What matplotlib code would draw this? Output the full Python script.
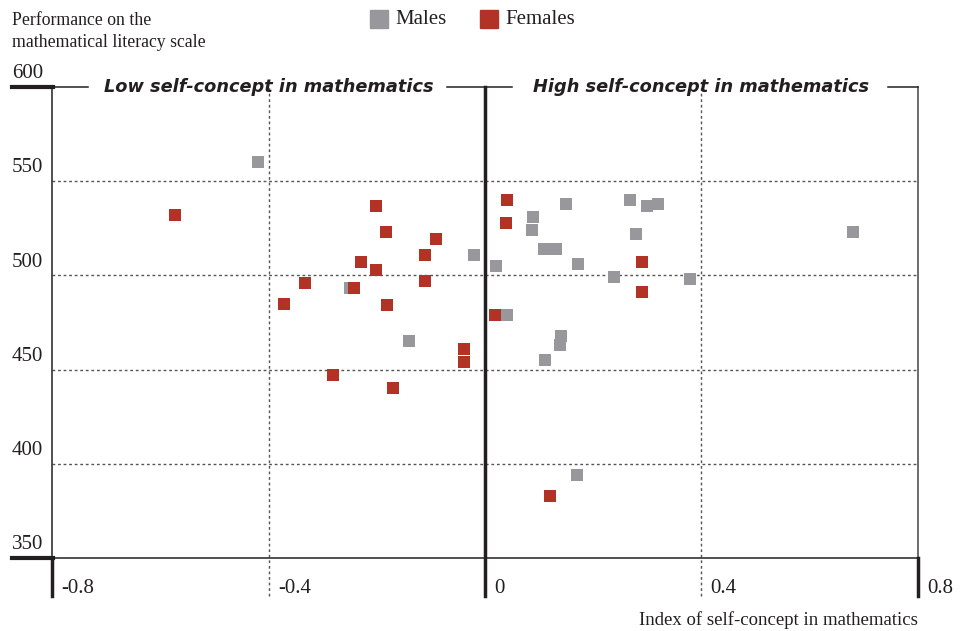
import matplotlib.pyplot as plt
from matplotlib.transforms import blended_transform_factory

# index of self-concept in mathematics and mean performance, by country
males_x = [-0.42, -0.02, 0.02, -0.25, -0.14, 0.089, 0.087, 0.15, 0.268, 0.30,
           0.32, 0.279, 0.109, 0.131, 0.172, 0.239, 0.379, 0.041, 0.141, 0.139,
           0.111, 0.170, 0.680]
males_y = [560, 511, 505, 493, 465, 531, 524, 538, 540, 537,
           538, 522, 514, 514, 506, 499, 498, 479, 468, 463,
           455, 394, 523]
females_x = [-0.573, -0.202, -0.183, -0.091, -0.111, -0.229, -0.202, -0.111,
             -0.333, -0.242, -0.372, -0.181, -0.039, -0.039, -0.281, -0.170,
             0.041, 0.039, 0.290, 0.290, 0.019, 0.120]
females_y = [532, 537, 523, 519, 511, 507, 503, 497,
             496, 493, 485, 484, 461, 454, 447, 440,
             540, 528, 507, 491, 479, 383]

xticks = [-0.8, -0.4, 0, 0.4, 0.8]
xtick_labels = ["-0.8", "-0.4", "0", "0.4", "0.8"]
yticks = [350, 400, 450, 500, 550, 600]

grey = "#98989c"
red = "#b23226"
dark = "#231f20"
serif = "Liberation Serif"

fig = plt.figure(figsize=(9.74, 6.31), dpi=100)
ax = fig.add_axes([0.0538, 0.1157, 0.8883, 0.7467])
ax.set_xlim(-0.8, 0.8)
ax.set_ylim(350, 600)
ax.axis("off")

# gridlines
for y in [400, 450, 500, 550]:
    ax.plot([-0.8, 0.8], [y, y], color="#555555", lw=1, ls=(0, (2, 2)), zorder=1)
for x in [-0.4, 0.4]:
    ax.plot([x, x], [330, 600], color="#555555", lw=1, ls=(0, (2, 2)), zorder=1, clip_on=False)

# frame
ax.plot([-0.8, -0.8], [350, 600], color=dark, lw=1.1, zorder=2, clip_on=False)
ax.plot([0.8, 0.8], [350, 600], color="#444444", lw=1.1, zorder=2, clip_on=False)
ax.plot([-0.8, 0.8], [350, 350], color=dark, lw=1.1, zorder=2, clip_on=False)
ax.plot([0, 0], [330, 600], color=dark, lw=2.5, zorder=2, clip_on=False)
for x in [-0.8, 0.8]:
    ax.plot([x, x], [330, 350], color=dark, lw=2.5, zorder=2, clip_on=False)

# top line with gaps for the headers
for x0, x1 in [(-0.8, -0.735), (-0.07, 0), (0, 0.05), (0.745, 0.8)]:
    ax.plot([x0, x1], [600, 600], color=dark, lw=1.1, zorder=2, clip_on=False)

# thick stubs left of the axes
tr = blended_transform_factory(fig.transFigure, ax.transData)
for y in [350, 600]:
    ax.plot([12 / 974, 53 / 974], [y, y], color=dark, lw=3, transform=tr, clip_on=False)

ax.text(-0.4, 600, "Low self-concept in mathematics", ha="center", va="center",
        fontsize=12.8, fontweight="bold", style="oblique", family="DejaVu Sans", color=dark)
ax.text(0.4, 600, "High self-concept in mathematics", ha="center", va="center",
        fontsize=12.8, fontweight="bold", style="oblique", family="DejaVu Sans", color=dark)

# y tick labels, above each line
for y in yticks:
    ax.text(12 / 974, y + 2, str(y), transform=tr, ha="left", va="bottom",
            fontsize=15, family=serif, color=dark)

# x tick labels, right of the ticks
for x, lab in zip(xticks, xtick_labels):
    ax.text(x + 0.017, 334, lab, ha="left", va="center", fontsize=15,
            family=serif, color=dark)

ax.scatter(males_x, males_y, marker="s", s=75, color=grey, linewidths=0, zorder=3)
ax.scatter(females_x, females_y, marker="s", s=75, color=red, linewidths=0, zorder=4)

# axis titles
fig.text(12 / 974, 1 - 12 / 631, "Performance on the\nmathematical literacy scale",
         ha="left", va="top", fontsize=12.8, family=serif, color=dark, linespacing=1.35)
fig.text(918 / 974, 1 - 620 / 631, "Index of self-concept in mathematics",
         ha="right", va="center", fontsize=13.5, family=serif, color=dark)

# legend
fig.patches.append(plt.Rectangle((370 / 974, 1 - 28 / 631), 18 / 974, 18 / 631,
                                 transform=fig.transFigure, color=grey))
fig.text(395 / 974, 1 - 20 / 631, "Males", ha="left", va="center", fontsize=15,
         family=serif, color=dark)
fig.patches.append(plt.Rectangle((480 / 974, 1 - 28 / 631), 18 / 974, 18 / 631,
                                 transform=fig.transFigure, color=red))
fig.text(505 / 974, 1 - 20 / 631, "Females", ha="left", va="center", fontsize=15,
         family=serif, color=dark)

fig.savefig("out.png", dpi=100)
